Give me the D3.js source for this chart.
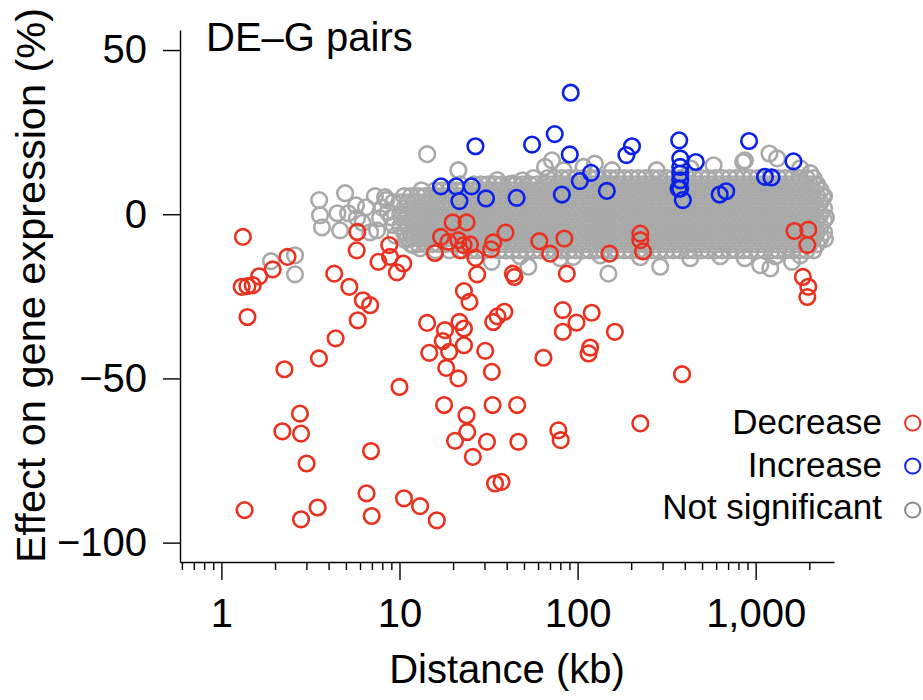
<!DOCTYPE html>
<html>
<head>
<meta charset="utf-8">
<title>DE-G pairs</title>
<script src="https://d3js.org/d3.v7.min.js"></script>
<style>
body { margin: 0; background: #fff; }
text { font-family: "Liberation Sans", Arial, Helvetica, sans-serif; fill: #000; }
.axis path, .axis line { stroke: #000; stroke-width: 1.4px; }
</style>
</head>
<body>
<div id="chart"></div>
<script>
  var width = 923;
  var height = 700;

  // axis ticks
  var xTicks = [1, 10, 100, 1000];
  var xMinor = [0.6, 0.7, 0.8, 0.9, 2, 3, 4, 5, 6, 7, 8, 9, 20, 30, 40, 50, 60, 70, 80, 90,
                200, 300, 400, 500, 600, 700, 800, 900, 2000];
  var yTicks = [50, 0, -50, -100];

  var legendLabels = ["Decrease", "Increase", "Not significant"];
  var colors = { dec: "#e8321f", inc: "#0a22e8", ns: "#a9a9a9" };

  // [distance kb, effect %]
  var decrease = [
    [1.32,-6.9],[1.30,-22.1],[1.40,-21.9],[1.50,-21.6],[1.63,-18.9],[1.94,-16.8],[2.35,-13.0],[1.40,-31.3],
    [2.26,-47.2],[3.53,-43.9],[4.38,-37.8],[4.30,-18.1],[5.23,-22.1],[6.23,-26.2],[6.84,-27.7],[5.83,-32.3],
    [5.80,-5.4],[5.75,-11.0],[8.76,-9.4],[7.62,-14.5],[8.85,-13.0],[10.5,-15.0],[9.67,-17.7],[10.0,-52.6],
    [2.76,-60.7],[2.20,-66.1],[2.80,-66.8],[3.01,-75.9],[1.35,-90.1],[2.80,-92.9],[3.47,-89.3],[6.92,-72.1],
    [6.53,-85.0],[6.98,-91.9],[10.6,-86.5],[13.05,-88.9],[16.2,-93.2],
    [27.3,-18.3],[43.3,-18.1],[44.2,-19.1],[87.0,-18.1],[23.0,-23.4],[24.7,-26.7],[14.3,-33.1],[18.0,-35.3],
    [21.7,-32.8],[23.0,-34.8],[17.5,-38.6],[23.0,-39.9],[14.7,-42.2],[19.0,-41.9],[18.3,-46.8],[21.4,-50.0],
    [30.3,-41.6],[33.0,-48.0],[33.6,-32.8],[35.5,-31.1],[38.8,-29.7],
    [17.8,-58.1],[23.8,-61.2],[24.0,-66.3],[33.3,-58.1],[45.8,-58.1],[20.5,-69.0],[31.0,-69.3],[46.5,-69.3],
    [25.8,-73.9],[34.4,-82.0],[37.4,-81.5],
    [64.3,-43.7],[82.6,-29.2],[98.6,-33.0],[82.6,-35.8],[120,-30.0],[117.7,-40.6],[115.3,-42.4],[162,-35.8],
    [78.0,-65.8],[80.4,-68.8],[225,-63.7],[386,-48.7],
    [19.9,-2.5],[23.8,-2.5],[17.1,-6.9],[18.8,-8.4],[21.4,-7.9],[22.9,-9.4],[24.9,-9.2],[21.9,-11.0],
    [15.8,-11.8],[26.7,-13.3],[33.6,-8.6],[32.7,-10.7],[39.4,-5.6],[61.0,-8.2],[70.1,-12.0],[84.3,-7.4],
    [151,-12.0],[225,-5.9],[225,-7.9],[233,-11.3],
    [1650,-5.1],[1975,-4.7],[1950,-9.4],[1840,-19.1],[1975,-22.1],[1950,-25.2]
  ];

  var increase = [
    [91.5,37.0],[26.7,20.7],[55.5,21.2],[74.4,24.4],[90.4,18.2],[202,20.7],[188,18.0],[372,22.5],
    [377,17.0],[377,14.4],[377,12.4],[377,10.35],[377,7.8],[390,4.3],[369,7.8],[461,15.9],
    [918,22.3],[1630,16.1],[1128,11.4],[1228,11.2],[628,6.0],[683,7.0],[119,12.6],[103,10.1],
    [146,7.1],[81.6,6.0],[45.5,5.0],[30.6,4.8],[21.7,4.0],[20.8,8.5],[25.4,8.5],[17.1,8.5]
  ];

  // dense grey band, read row by row: [effect %, distances kb]
  var notSigRows = [
    [11.0, [56.5,67.8,74.2,81.3,89.0,97.4,107,117,128,140,152,167,183,200,219,240,263,288,315,345,377,413,452,495,
            542,594,650,712,779,853,934,1023,1120,1226,1343,1470,1610,1762,1930,2113]],
    [9.1,  [21.8,26.2,28.6,31.4,34.3,37.6,41.1,45.1,49.3,54.0,59.1,64.8,70.9,77.6,85.0,93.1,102,112,122,134,146,160,
            175,192,210,230,251,275,302,330,361,396,433,474,519,568,622,681,745,816,893,978,1071,1172,1284,1405,1539,
            1685,1845,2020,2211]],
    [7.3,  [13.3,15.9,17.4,19.1,20.9,22.8,25.0,27.4,30.0,32.8,35.9,39.3,43.1,47.2,51.6,56.5,61.9,67.8,74.2,81.3,89.0,
            97.4,107,117,128,140,152,167,183,200,219,240,263,288,315,345,377,413,452,495,542,594,650,712,779,853,934,
            1023,1120,1226,1343,1470,1610,1762,1930,2113,2313]],
    [5.5,  [10.6,11.6,12.7,13.9,15.2,16.6,18.2,19.9,21.8,23.9,26.2,28.6,31.4,34.3,37.6,41.1,45.1,49.3,54.0,59.1,64.8,
            70.9,77.6,85.0,93.1,102,112,122,134,146,160,175,192,210,230,251,275,302,330,361,396,433,474,519,568,622,681,
            745,816,893,978,1071,1172,1284,1405,1539,1685,1845,2020,2211,2421]],
    [3.65, [10.1,11.1,12.1,13.3,14.5,15.9,17.4,19.1,20.9,22.8,25.0,27.4,30.0,32.8,35.9,39.3,43.1,47.2,51.6,56.5,61.9,
            67.8,74.2,81.3,89.0,97.4,107,117,128,140,152,167,183,200,219,240,263,288,315,345,377,413,452,495,542,594,650,
            712,779,853,934,1023,1120,1226,1343,1470,1610,1762,1930,2113,2313]],
    [1.8,  [10.6,11.6,12.7,13.9,15.2,16.6,18.2,19.9,21.8,23.9,26.2,28.6,31.4,34.3,37.6,41.1,45.1,49.3,54.0,59.1,64.8,
            70.9,77.6,85.0,93.1,102,112,122,134,146,160,175,192,210,230,251,275,302,330,361,396,433,474,519,568,622,681,
            745,816,893,978,1071,1172,1284,1405,1539,1685,1845,2020,2211,2421]],
    [0,    [10.1,11.1,12.1,13.3,14.5,15.9,17.4,19.1,20.9,22.8,25.0,27.4,30.0,32.8,35.9,39.3,43.1,47.2,51.6,56.5,61.9,
            67.8,74.2,81.3,89.0,97.4,107,117,128,140,152,167,183,200,219,240,263,288,315,345,377,413,452,495,542,594,650,
            712,779,853,934,1023,1120,1226,1343,1470,1610,1762,1930,2113,2313]],
    [-1.8, [10.6,11.6,12.7,13.9,15.2,16.6,18.2,19.9,21.8,23.9,26.2,28.6,31.4,34.3,37.6,41.1,45.1,49.3,54.0,59.1,64.8,
            70.9,77.6,85.0,93.1,102,112,122,134,146,160,175,192,210,230,251,275,302,330,361,396,433,474,519,568,622,681,
            745,816,893,978,1071,1172,1284,1405,1539,1685,1845,2020,2211,2421]],
    [-3.65,[10.1,11.1,12.1,13.3,14.5,15.9,17.4,19.1,20.9,22.8,25.0,27.4,30.0,32.8,35.9,39.3,43.1,47.2,51.6,56.5,61.9,
            67.8,74.2,81.3,89.0,97.4,107,117,128,140,152,167,183,200,219,240,263,288,315,345,377,413,452,495,542,594,650,
            712,779,853,934,1023,1120,1226,1343,1470,1610,1762,1930,2113,2313]],
    [-5.5, [10.6,11.6,12.7,13.9,15.2,16.6,18.2,19.9,21.8,23.9,26.2,28.6,31.4,34.3,37.6,41.1,45.1,49.3,54.0,59.1,64.8,
            70.9,77.6,85.0,93.1,102,112,122,134,146,160,175,192,210,230,251,275,302,330,361,396,433,474,519,568,622,681,
            745,816,893,978,1071,1172,1284,1405,1539,1685,1845,2020,2211,2421]],
    [-7.3, [11.1,12.1,13.3,14.5,15.9,17.4,19.1,20.9,22.8,25.0,27.4,30.0,32.8,35.9,39.3,43.1,47.2,51.6,56.5,61.9,
            67.8,74.2,81.3,89.0,97.4,107,117,128,140,152,167,183,200,219,240,263,288,315,345,377,413,452,495,542,594,650,
            712,779,853,934,1023,1120,1226,1343,1470,1610,1762,1930,2113,2313]],
    [-9.1, [11.6,12.7,13.9,15.2,16.6,18.2,19.9,21.8,23.9,26.2,28.6,31.4,34.3,37.6,41.1,45.1,49.3,54.0,59.1,64.8,
            70.9,77.6,85.0,93.1,102,112,122,134,146,160,175,192,210,230,251,275,302,330,361,396,433,474,519,568,622,681,
            745,816,893,978,1071,1172,1284,1405,1539,1685,1845,2020,2211]],
    [-11.0,[15.9,19.1,22.8,25.0,27.4,30.0,35.9,39.3,43.1,47.2,51.6,56.5,61.9,67.8,74.2,81.3,89.0,97.4,107,117,128,140,
            152,167,183,200,219,240,263,288,315,345,377,413,452,495,542,594,650,712,779,853,934,1023,1120,1226,1343,1470,
            1610,1762,1930,2113]]
  ];

  // scattered grey points at the edges of the band
  var notSigExtra = [
    [3.54,4.3],[4.95,6.4],[3.58,-0.3],[4.48,0.3],[5.15,0.3],[3.67,-4.0],[4.64,-4.9],[6.48,2.1],[8.43,4.3],
    [7.48,-4.9],[2.59,-12.5],[1.90,-14.3],[2.59,-18.3],[5.77,-1.2],[8.3,5.2],[9.23,3.65],[7.78,-1.2],[6.84,-5.5],
    [9.23,-3.3],[8.6,0.6],[7.28,5.5],[5.7,2.7],[10.8,-7.9],[9.0,-1.0],[8.0,2.0],[9.5,-6.5],[6.2,-2.6],
    [14.3,18.3],[21.4,13.4],[65.6,14.4],[71.8,16.4],[83.4,13.4],[108,14.4],[125,15.4],[278,13.4],[580,14.9],
    [870,16.4],[1195,18.5],[1320,17.0],[850,15.9],[2180,8.8],[2390,5.3],[49.1,10.35],[43.5,9.4],[35.4,10.4],
    [156,13.4],[430,14.0],[1780,14.0],[2026,12.5],
    [52.9,-16.0],[149,-18.1],[291,-16.0],[1061,-15.5],[1208,-16.5],[1600,-14.5],[32.9,-14.5],[13.05,-10.4],
    [94.7,-13.0],[134,-12.5],[47.6,-12.8],[79.8,-13.4],[225,-13.1],[429,-13.4],[632,-12.8],[870,-13.4],
    [1290,-12.8],[1780,-12.5],[2480,-1.0],[2450,-7.5],[12.0,-9.5]
  ];

  var notSig = [];
  notSigRows.forEach(function(row) {
    row[1].forEach(function(kb) { notSig.push([kb, row[0]]); });
  });
  notSig = notSig.concat(notSigExtra);

  var svg = d3.select("#chart").append("svg")
    .attr("width", width)
    .attr("height", height)
    .style("background", "#fff");

  var x = d3.scaleLog().domain([0.5855, 2753]).range([180, 834]);
  var y = d3.scaleLinear().domain([-105.9, 56.1]).range([562, 30]);

  function drawPoints(data, color) {
    svg.append("g").selectAll("circle")
      .data(data).enter()
      .append("circle")
      .attr("cx", function(d) { return x(d[0]); })
      .attr("cy", function(d) { return y(d[1]); })
      .attr("r", 7.8)
      .attr("fill", "none")
      .attr("stroke", color)
      .attr("stroke-width", 2.6);
  }

  drawPoints(notSig, colors.ns);
  drawPoints(decrease, colors.dec);
  drawPoints(increase, colors.inc);

  // axes
  var xAxis = svg.append("g").attr("class", "axis")
    .attr("transform", "translate(0,562)")
    .call(d3.axisBottom(x).tickValues(xTicks).tickSize(18).tickSizeOuter(0)
      .tickPadding(19).tickFormat(d3.format(",")));
  xAxis.selectAll("text").style("font-size", "40px");

  svg.append("g").attr("class", "axis")
    .attr("transform", "translate(0,562)")
    .call(d3.axisBottom(x).tickValues(xMinor).tickSize(8).tickFormat(""))
    .select(".domain").remove();

  var yAxis = svg.append("g").attr("class", "axis")
    .attr("transform", "translate(180,0)")
    .call(d3.axisLeft(y).tickValues(yTicks).tickSize(17).tickSizeOuter(0).tickPadding(16));
  yAxis.selectAll("text").style("font-size", "40px");

  svg.selectAll(".axis text").attr("font-family", null).attr("font-size", null);

  // titles
  svg.append("text")
    .attr("x", 206).attr("y", 51)
    .style("font-size", "40px")
    .text("DE\u2013G pairs");

  svg.append("text")
    .attr("x", 507).attr("y", 683)
    .attr("text-anchor", "middle")
    .style("font-size", "40px")
    .text("Distance (kb)");

  svg.append("text")
    .attr("transform", "translate(45,285.5) rotate(-90)")
    .attr("text-anchor", "middle")
    .style("font-size", "41.5px")
    .text("Effect on gene expression (%)");

  // legend
  var legendColors = [colors.dec, colors.inc, "#888"];
  var legendTextY = [434, 477, 518.5];
  var legendDotY = [423, 466, 510];
  var legend = svg.append("g");
  legend.selectAll("text")
    .data(legendLabels).enter()
    .append("text")
    .attr("x", 882)
    .attr("y", function(d, i) { return legendTextY[i]; })
    .attr("text-anchor", "end")
    .style("font-size", "35px")
    .text(function(d) { return d; });
  legend.selectAll("circle")
    .data(legendLabels).enter()
    .append("circle")
    .attr("cx", 912.7)
    .attr("cy", function(d, i) { return legendDotY[i]; })
    .attr("r", 7.6)
    .attr("fill", "none")
    .attr("stroke", function(d, i) { return legendColors[i]; })
    .attr("stroke-width", 2);
</script>
</body>
</html>
